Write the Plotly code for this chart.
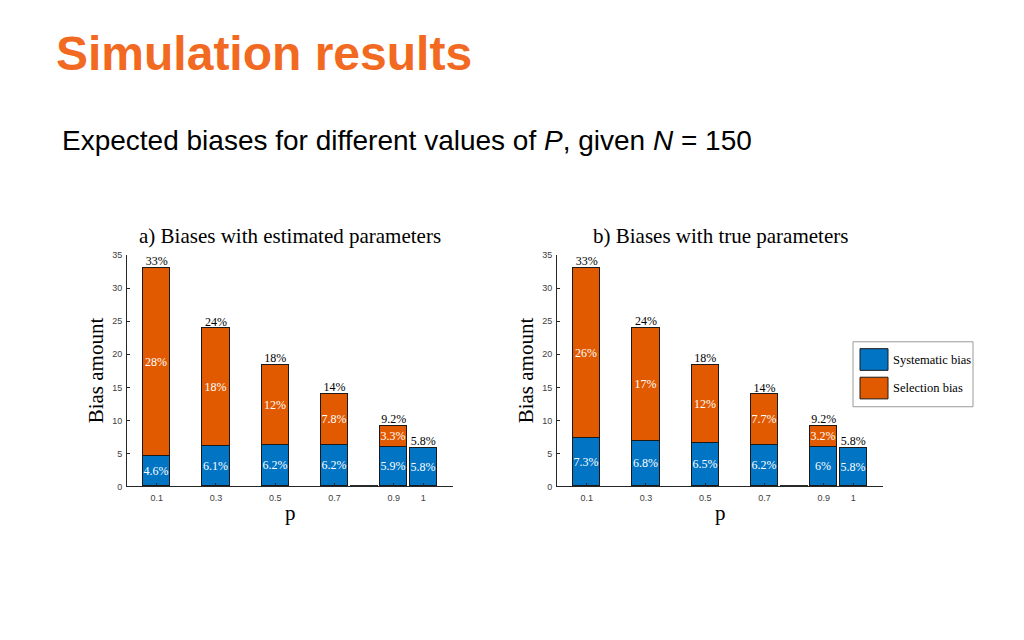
import plotly.graph_objects as go

# ---------------- data ----------------
p_values = [0.1, 0.3, 0.5, 0.7, 0.8, 0.9, 1.0]
tick_values = [0.1, 0.3, 0.5, 0.7, 0.9, 1.0]
tick_labels = ["0.1", "0.3", "0.5", "0.7", "0.9", "1"]
y_ticks = [0, 5, 10, 15, 20, 25, 30, 35]

est_systematic = [4.6, 6.1, 6.2, 6.2, 0.0, 5.9, 5.8]
est_selection = [28.4, 17.8, 12.2, 7.8, 0.0, 3.3, 0.0]
true_systematic = [7.3, 6.8, 6.5, 6.2, 0.0, 6.0, 5.8]
true_selection = [25.7, 17.2, 11.9, 7.7, 0.0, 3.2, 0.0]

panel_titles = ["a) Biases with estimated parameters", "b) Biases with true parameters"]
series_names = ["Systematic bias", "Selection bias"]

# ---------------- style ----------------
W, H = 1024, 640
OFF = 8  # page body margin of the browser
BLUE = "#0174C4"
ORANGE = "#E25A00"
EDGE = "#1a1a1a"
SERIF = "Liberation Serif"
SANS = "Liberation Sans"
BAR_W = 0.092


def px(x):
    return (x - OFF) / W


def py(y):
    return 1 - (y - OFF) / H


def fmt(v):
    return f"{v:.2g}%" if v > 0 else ""


fig = go.Figure()

panels = [
    (est_systematic, est_selection, "x", "y"),
    (true_systematic, true_selection, "x2", "y2"),
]

for sys_vals, sel_vals, xa, ya in panels:
    totals = [a + b for a, b in zip(sys_vals, sel_vals)]
    fig.add_trace(go.Bar(
        x=p_values, y=sys_vals, width=BAR_W, name=series_names[0],
        marker=dict(color=BLUE, line=dict(color=EDGE, width=1)),
        text=[fmt(v) for v in sys_vals], textposition="inside",
        insidetextanchor="middle", textangle=0,
        textfont=dict(family=SERIF, size=12, color="white"),
        xaxis=xa, yaxis=ya, showlegend=False, cliponaxis=False,
    ))
    fig.add_trace(go.Bar(
        x=p_values, y=sel_vals, width=BAR_W, name=series_names[1],
        marker=dict(color=ORANGE, line=dict(color=EDGE, width=1)),
        text=[fmt(v) for v in sel_vals], textposition="inside",
        insidetextanchor="middle", textangle=0,
        textfont=dict(family=SERIF, size=12, color="white"),
        xaxis=xa, yaxis=ya, showlegend=False, cliponaxis=False,
    ))
    # total labels above bars
    fig.add_trace(go.Scatter(
        x=[p for p, t in zip(p_values, totals) if t > 0],
        y=[t for t in totals if t > 0],
        text=[fmt(t) for t in totals if t > 0],
        mode="text", textposition="top center",
        textfont=dict(family=SERIF, size=12, color="black"),
        xaxis=xa, yaxis=ya, showlegend=False, cliponaxis=False,
    ))
    # zero-height bars drawn as their edge line
    zx, zy = [], []
    for p, t in zip(p_values, totals):
        if t == 0:
            zx += [p - BAR_W / 2, p + BAR_W / 2, None]
            zy += [0, 0, None]
    fig.add_trace(go.Scatter(
        x=zx, y=zy, mode="lines", line=dict(color="#333333", width=2.5),
        xaxis=xa, yaxis=ya, showlegend=False, cliponaxis=False,
        hoverinfo="skip",
    ))

axis_common = dict(
    showgrid=False, zeroline=False, showline=True, linecolor="#262626",
    linewidth=1, ticks="inside", ticklen=3, tickcolor="#262626",
    tickfont=dict(family=SANS, size=9, color="#404040"),
)

x_domains = [[px(127), px(453)], [px(557), px(883)]]
y_domain = [py(489), py(254)]

fig.update_layout(
    width=W, height=H,
    margin=dict(l=0, r=0, t=0, b=0),
    paper_bgcolor="white", plot_bgcolor="white",
    barmode="stack", bargap=0,
    showlegend=False,
    uniformtext=dict(minsize=12, mode="show"),
    xaxis=dict(domain=x_domains[0], range=[0, 1.1], tickvals=tick_values,
               ticktext=tick_labels, anchor="y", ticklabelstandoff=3,
               **axis_common),
    yaxis=dict(domain=y_domain, range=[0, 35], tickvals=y_ticks,
               anchor="x", ticklabelstandoff=2, **axis_common),
    xaxis2=dict(domain=x_domains[1], range=[0, 1.1], tickvals=tick_values,
                ticktext=tick_labels, anchor="y2", ticklabelstandoff=3,
                **axis_common),
    yaxis2=dict(domain=y_domain, range=[0, 35], tickvals=y_ticks,
                anchor="x2", ticklabelstandoff=2, **axis_common),
)

ann = []
# slide title & subtitle
ann.append(dict(text="<b>Simulation results</b>", x=px(54), y=py(49),
                xanchor="left", yanchor="middle",
                font=dict(family=SANS, size=48, color="#F26A22")))
ann.append(dict(text="Expected biases for different values of <i>P</i>, given <i>N</i> = 150",
                x=px(60), y=py(138), xanchor="left", yanchor="middle",
                font=dict(family=SANS, size=28, color="black")))
# panel titles and axis labels
for i, cx in enumerate([290, 720]):
    ann.append(dict(text=panel_titles[i], x=px(cx), y=py(235),
                    xanchor="center", yanchor="middle",
                    font=dict(family=SERIF, size=21, color="black")))
    ann.append(dict(text="p", x=px(cx), y=py(516), xanchor="center",
                    yanchor="middle",
                    font=dict(family=SERIF, size=21, color="black")))
for cx in [96, 526]:
    ann.append(dict(text="Bias amount", x=px(cx), y=py(371), textangle=-90,
                    xanchor="center", yanchor="middle",
                    font=dict(family=SERIF, size=21, color="black")))
# legend text
for name, cy in zip(series_names, [360, 389]):
    ann.append(dict(text=name, x=px(891), y=py(cy), xanchor="left",
                    yanchor="middle",
                    font=dict(family=SERIF, size=12.5, color="black")))
for a in ann:
    a.update(xref="paper", yref="paper", showarrow=False)
fig.update_layout(annotations=ann)

# legend box and swatches
shapes = [
    dict(type="rect", x0=px(853), x1=px(973), y0=py(408), y1=py(342),
         line=dict(color="#9a9a9a", width=1), fillcolor="white"),
    dict(type="rect", x0=px(860), x1=px(888), y0=py(371), y1=py(349),
         line=dict(color=EDGE, width=1), fillcolor=BLUE),
    dict(type="rect", x0=px(860), x1=px(888), y0=py(400), y1=py(378),
         line=dict(color=EDGE, width=1), fillcolor=ORANGE),
]
for s in shapes:
    s.update(xref="paper", yref="paper", layer="below")
fig.update_layout(shapes=shapes)

fig.write_html("out.html")
